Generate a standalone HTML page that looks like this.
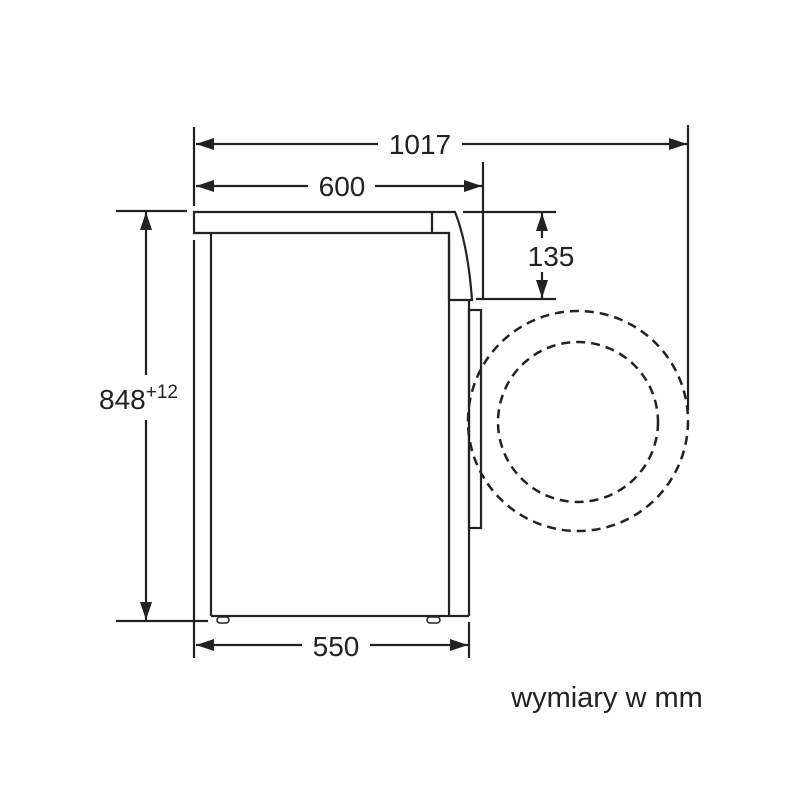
<!DOCTYPE html>
<html><head><style>body{margin:0;background:#fff}svg{display:block}</style></head><body>
<svg width="800" height="800" viewBox="0 0 800 800" xmlns="http://www.w3.org/2000/svg">
<defs>
<marker id="a" viewBox="0 0 18 12" refX="18" refY="6" markerWidth="18" markerHeight="12" markerUnits="userSpaceOnUse" orient="auto-start-reverse"><path d="M0,0L18,6L0,12z" fill="#222"/></marker>
</defs>
<g stroke="#222" stroke-width="2.2" fill="none">
<line x1="194" y1="127" x2="194" y2="206"/>
<line x1="194" y1="240" x2="194" y2="658"/>
<line x1="688" y1="125" x2="688" y2="410"/>
<line x1="483" y1="162" x2="483" y2="300"/>
<line x1="116" y1="211" x2="187" y2="211"/>
<line x1="116" y1="621" x2="208" y2="621"/>
<line x1="463" y1="212" x2="556" y2="212"/>
<line x1="476" y1="299" x2="556" y2="299"/>
<line x1="469" y1="622" x2="469" y2="658"/>
<line x1="196" y1="144" x2="378" y2="144" marker-start="url(#a)"/>
<line x1="462" y1="144" x2="687" y2="144" marker-end="url(#a)"/>
<line x1="196" y1="186" x2="308" y2="186" marker-start="url(#a)"/>
<line x1="375" y1="186" x2="482" y2="186" marker-end="url(#a)"/>
<line x1="542" y1="213" x2="542" y2="238" marker-start="url(#a)"/>
<line x1="542" y1="272" x2="542" y2="298" marker-end="url(#a)"/>
<line x1="146" y1="212" x2="146" y2="375" marker-start="url(#a)"/>
<line x1="146" y1="420" x2="146" y2="620" marker-end="url(#a)"/>
<line x1="196" y1="645" x2="302" y2="645" marker-start="url(#a)"/>
<line x1="370" y1="645" x2="468" y2="645" marker-end="url(#a)"/>
<path d="M194,212 L455,212 Q468,245 472,300 L449,300 L449,233 L194,233 Z"/>
<line x1="432" y1="212" x2="432" y2="233"/>
<line x1="211" y1="233" x2="211" y2="616"/>
<line x1="449" y1="233" x2="449" y2="616"/>
<line x1="469" y1="300" x2="469" y2="616"/>
<line x1="211" y1="616" x2="469" y2="616"/>
<rect x="469" y="310" width="12" height="218"/>
<rect x="217" y="617" width="12" height="6" rx="3" stroke-width="1.5"/>
<rect x="427" y="617" width="13" height="6" rx="3" stroke-width="1.5"/>
<circle cx="578" cy="421" r="110" stroke-width="2.5" stroke-dasharray="9,6"/>
<circle cx="578" cy="422" r="80" stroke-width="2.5" stroke-dasharray="9,6"/>
</g>
<g font-family="Liberation Sans, sans-serif" fill="#222" font-size="28" text-anchor="middle">
<text x="420" y="154">1017</text>
<text x="342" y="196">600</text>
<text x="551" y="266">135</text>
<text x="336" y="656">550</text>
<text x="99" y="409" text-anchor="start">848<tspan font-size="19" dy="-11">+12</tspan></text>
<text x="607" y="707" font-size="29">wymiary w mm</text>
</g>
</svg>
</body></html>
